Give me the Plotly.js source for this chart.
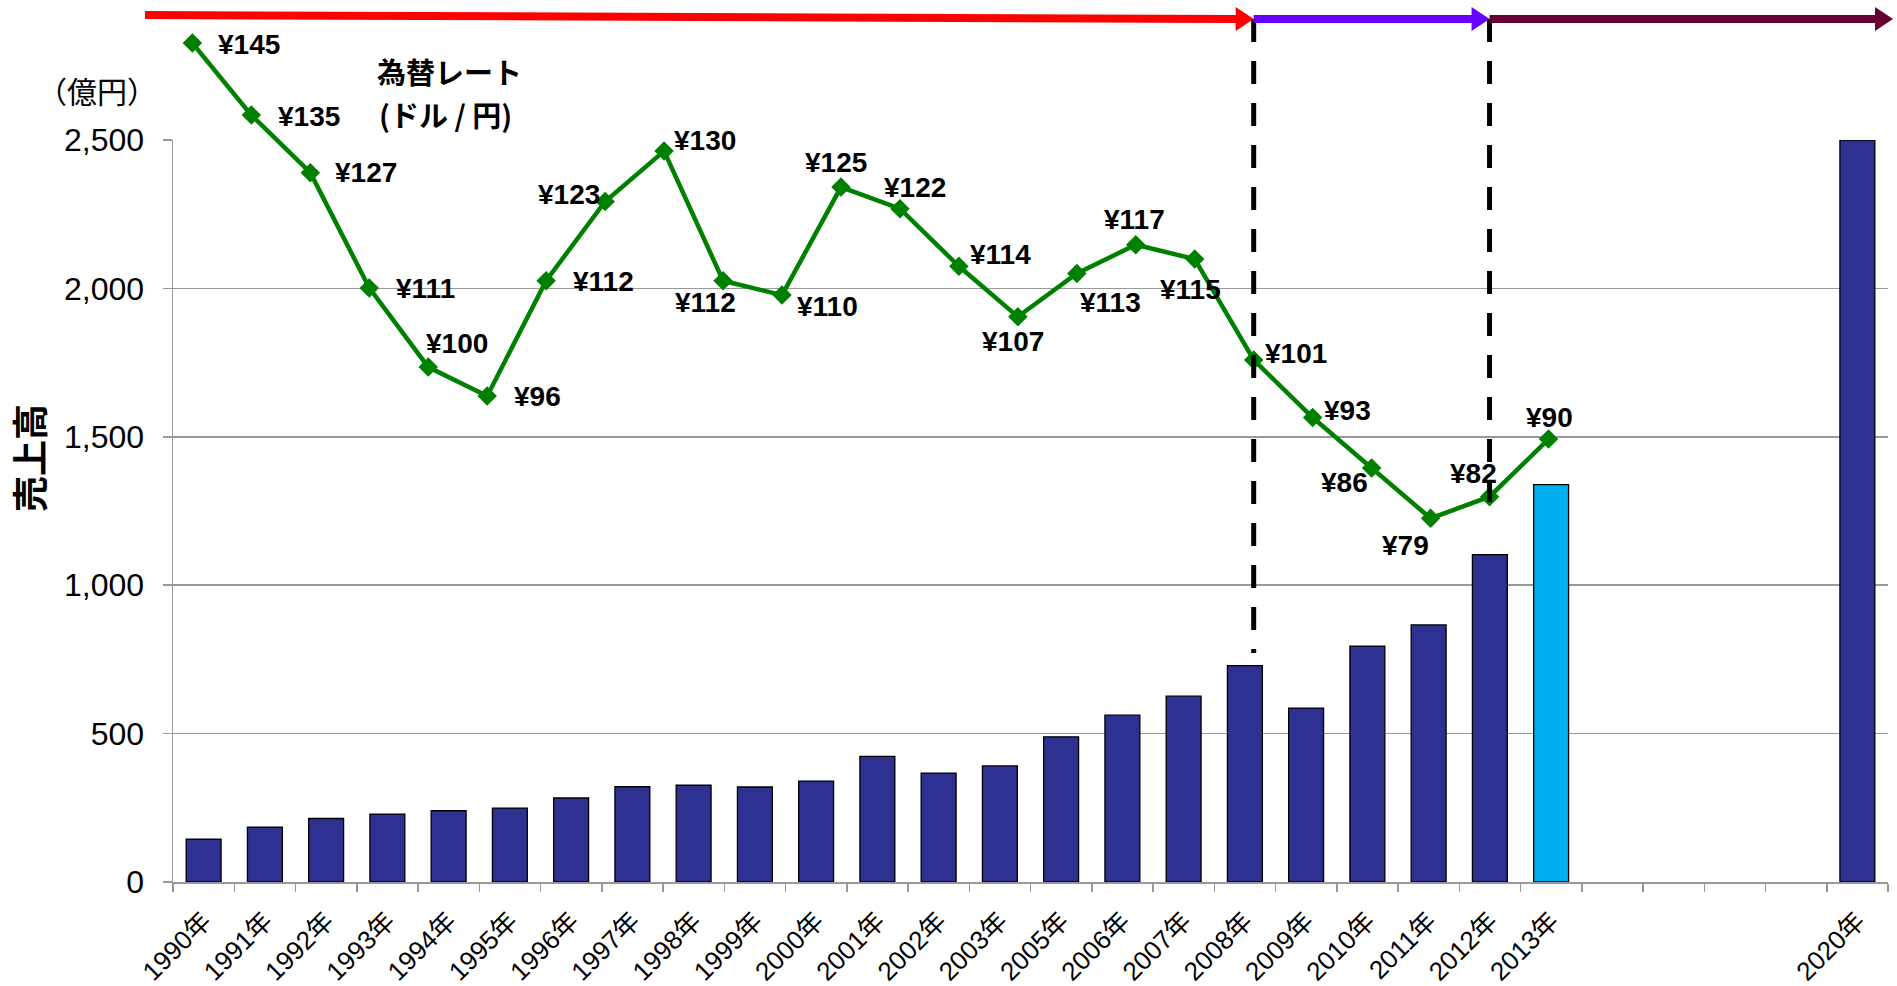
<!DOCTYPE html>
<html>
<head>
<meta charset="utf-8">
<script src="https://cdn.plot.ly/plotly-3.0.1.min.js"></script>
<style>html,body{margin:0;padding:0;background:#fff;}#chart{width:1897px;height:986px;}</style>
</head>
<body>
<div id="chart"></div>
<script>
// ---- data ----
const salesYears = ['1990年','1991年','1992年','1993年','1994年','1995年','1996年','1997年','1998年','1999年','2000年','2001年','2002年','2003年','2005年','2006年','2007年','2008年','2009年','2010年','2011年','2012年','2013年','2020年'];
const sales = [144,185,214,229,240,249,283,321,326,320,340,423,367,391,489,562,626,729,586,795,866,1103,1339,2500];
const axisSlots = ['1990年','1991年','1992年','1993年','1994年','1995年','1996年','1997年','1998年','1999年','2000年','2001年','2002年','2003年','2005年','2006年','2007年','2008年','2009年','2010年','2011年','2012年','2013年','','','','','2020年'];
const highlightYear = '2013年';
const rateYears = ['1990','1991','1992','1993','1994','1995','1996','1997','1998','1999','2000','2001','2002','2003','2004','2005','2006','2007','2008','2009','2010','2011','2012','2013'];
const rates = [145,135,127,111,100,96,112,123,130,112,110,125,122,114,107,113,117,115,101,93,86,79,82,90];
const rateLabels = rates.map(r => '¥' + r);
const periodBreaks = ['2008','2012'];
const yTicks = [0,500,1000,1500,2000,2500];

// ---- label offsets (px, screen) ----
const labelDX = [57,58,56,56,29,50,57,-36,41,-18,45,-5,15,42,-5,34,-1,-4,42,35,-27,-25,-16,1];
const labelDY = [1,1,0,1,-24,1,1,-7,-11,22,11,-25,-21,-12,25,29,-25,30,-6,-7,15,27,-23,-22];

// ---- geometry ----
const W = 1897, H = 986;
const ML = 173, MR = 9, MT = 20, MB = 104;
const PW = W - ML - MR, PH = H - MT - MB;
const X2_0 = -0.329, X2_1 = 28.758;
const Y2_0 = 28.49, Y2_1 = 148.21;
const barTopPx = 140;
const yDomTop = (H - MB - barTopPx) / PH;

const px = x => (x - ML) / PW;
const py = y => (H - MB - y) / PH;
const idxPx = i => ML + (i - X2_0) / (X2_1 - X2_0) * PW;

const FONT = 'Liberation Sans, Arial, Noto Sans CJK JP, sans-serif';
const JFONT = 'Noto Sans CJK JP, sans-serif';

const barTrace = {
  type: 'bar',
  x: salesYears.map(y => axisSlots.indexOf(y)),
  y: sales,
  width: 0.57,
  marker: {
    color: salesYears.map(y => y === highlightYear ? '#00B0F0' : '#2E3192'),
    line: {color: '#000000', width: 1.3}
  },
  xaxis: 'x', yaxis: 'y',
  hoverinfo: 'skip'
};

const lineTrace = {
  type: 'scatter',
  mode: 'lines+markers',
  x: rateYears.map((_, i) => i),
  y: rates,
  line: {color: '#008000', width: 4.5},
  marker: {symbol: 'diamond', size: 15, color: '#008000'},
  cliponaxis: false,
  xaxis: 'x2', yaxis: 'y2',
  hoverinfo: 'skip'
};

const annotations = rates.map((r, i) => ({
  x: i, y: r, xref: 'x2', yref: 'y2',
  text: '<b>' + rateLabels[i] + '</b>',
  showarrow: false, xanchor: 'center', yanchor: 'middle',
  xshift: labelDX[i], yshift: -labelDY[i],
  font: {family: FONT, size: 28, color: '#000'}
}));

annotations.push(
  {xref: 'paper', yref: 'paper', x: px(28), y: py(458), text: '<b>売上高</b>', textangle: -90,
   showarrow: false, xanchor: 'center', yanchor: 'middle', font: {family: JFONT, size: 36, color: '#000'}},
  {xref: 'paper', yref: 'paper', x: px(97), y: py(90), text: '（億円）',
   showarrow: false, xanchor: 'center', yanchor: 'middle', font: {family: JFONT, size: 30, color: '#000'}},
  {xref: 'paper', yref: 'paper', x: px(375), y: py(71), text: '<b>為替レート</b>',
   showarrow: false, xanchor: 'left', yanchor: 'middle', font: {family: JFONT, size: 29, color: '#000'}},
  {xref: 'paper', yref: 'paper', x: px(377), y: py(114), text: '<b>(ドル / 円)</b>',
   showarrow: false, xanchor: 'left', yanchor: 'middle', font: {family: JFONT, size: 29, color: '#000'}}
);

// period arrows and dashed separators
const b1 = idxPx(rateYears.indexOf(periodBreaks[0]));
const b2 = idxPx(rateYears.indexOf(periodBreaks[1]));
const arrowY = 19, headL = 18, headH = 12;
function tri(tipX, color) {
  return {type: 'path', xref: 'paper', yref: 'paper', layer: 'above',
    path: `M${px(tipX)},${py(arrowY)} L${px(tipX - headL)},${py(arrowY - headH)} L${px(tipX - headL)},${py(arrowY + headH)} Z`,
    fillcolor: color, line: {width: 0}};
}
function seg(x0, y0, x1, y1, color) {
  return {type: 'line', xref: 'paper', yref: 'paper', layer: 'above',
    x0: px(x0), y0: py(y0), x1: px(x1), y1: py(y1), line: {color: color, width: 8}};
}
const shapes = [
  {type: 'line', xref: 'paper', yref: 'paper', layer: 'above', x0: px(b1), x1: px(b1), y0: py(arrowY), y1: py(653),
   line: {color: '#000', width: 5, dash: '23px,19px'}},
  {type: 'line', xref: 'paper', yref: 'paper', layer: 'above', x0: px(b2), x1: px(b2), y0: py(arrowY), y1: py(502),
   line: {color: '#000', width: 5, dash: '23px,19px'}},
  seg(145, 15, b1 - headL + 1, arrowY, '#FF0000'), tri(b1, '#FF0000'),
  seg(b1, arrowY, b2 - headL + 1, arrowY, '#6600FF'), tri(b2, '#6600FF'),
  seg(b2, arrowY, W - 4 - headL + 1, arrowY, '#660033'), tri(W - 4, '#660033')
];

const boundaries = axisSlots.map((_, i) => i - 0.5).concat([axisSlots.length - 0.5]);

const layout = {
  width: W, height: H,
  margin: {l: ML, r: MR, t: MT, b: MB},
  paper_bgcolor: '#ffffff', plot_bgcolor: 'rgba(0,0,0,0)',
  showlegend: false,
  xaxis: {
    domain: [0, 1], range: [-0.5, axisSlots.length - 0.5], anchor: 'y',
    tickmode: 'array', tickvals: axisSlots.map((_, i) => i), ticktext: axisSlots,
    ticks: '', tickangle: -45, ticklabelstandoff: 12,
    tickfont: {family: FONT, size: 26, color: '#000'},
    showgrid: false, zeroline: false, showline: true, linecolor: '#999', linewidth: 1.5,
    minor: {tickmode: 'array', tickvals: boundaries, ticks: 'outside', ticklen: 8, tickcolor: '#999', tickwidth: 1.5, showgrid: false}
  },
  yaxis: {
    domain: [0, yDomTop], range: [0, 2500], anchor: 'x',
    tickmode: 'array', tickvals: yTicks, tickformat: ',d',
    ticks: 'outside', ticklen: 9, tickcolor: '#999', tickwidth: 1.5, ticklabelstandoff: 12,
    tickfont: {family: FONT, size: 32, color: '#000'},
    showgrid: true, gridcolor: '#999', gridwidth: 1.5,
    zeroline: false, showline: true, linecolor: '#999', linewidth: 1.5
  },
  xaxis2: {domain: [0, 1], range: [X2_0, X2_1], anchor: 'y2', visible: false, fixedrange: true},
  yaxis2: {domain: [0, 1], range: [Y2_0, Y2_1], anchor: 'x2', visible: false, fixedrange: true},
  annotations: annotations,
  shapes: shapes
};

Plotly.newPlot('chart', [barTrace, lineTrace], layout, {displayModeBar: false, staticPlot: true});
</script>
</body>
</html>
